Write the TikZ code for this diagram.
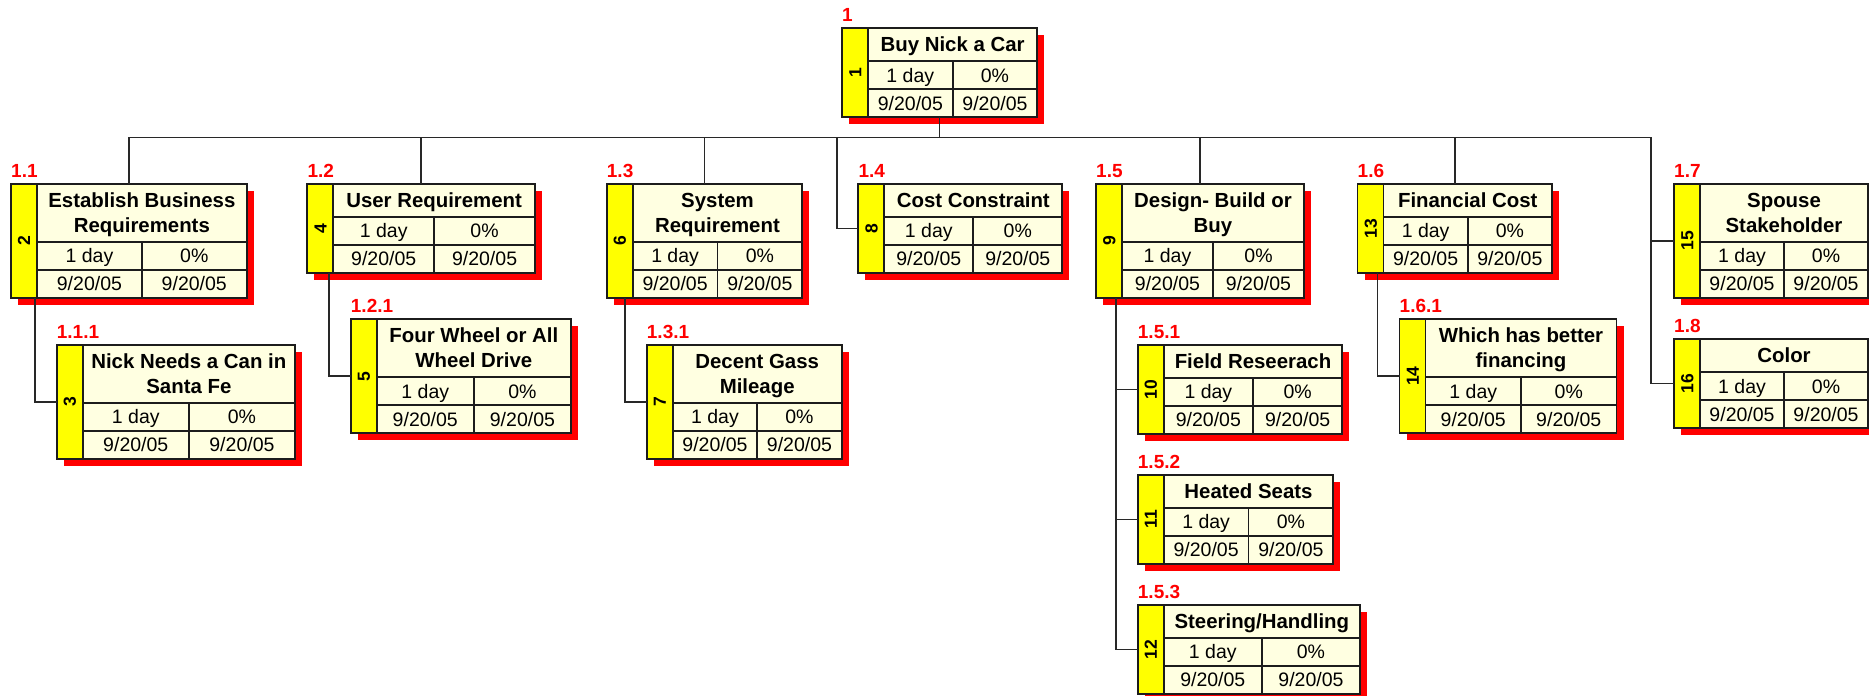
\documentclass[tikz,border=0pt]{standalone}
\usepackage{fontspec}
\setmainfont{Liberation Sans}
\usetikzlibrary{calc}
\definecolor{wbcream}{RGB}{255,255,225}
\definecolor{wbyellow}{RGB}{255,255,0}
\definecolor{wbred}{RGB}{255,0,0}
\definecolor{wbline}{RGB}{28,28,28}
\definecolor{wbconn}{RGB}{40,40,40}
\newcommand{\tstrut}{\rule[-5.85pt]{0pt}{25pt}}
\newcommand{\nl}{\\\tstrut}
\tikzset{
  wbs/.style={fill=wbcream, anchor=north west, inner sep=0pt, outer sep=0pt},
  wbgrid/.style={draw=wbline, line width=1.8pt},
  wbc/.style={draw=wbconn, line width=1.6pt},
  wbtitle/.style={font=\fontsize{20.4}{25}\selectfont\bfseries, align=center, inner sep=0pt},
  wbdata/.style={font=\fontsize{19.5}{22}\selectfont, inner sep=0pt, text height=14pt, text depth=0pt},
  wbnum/.style={font=\fontsize{17.5}{20}\selectfont\bfseries, rotate=90, inner sep=0pt, text height=12.5pt, text depth=0pt},
  wblabel/.style={font=\fontsize{19}{21}\selectfont\bfseries, text=wbred, inner sep=0pt, anchor=base west},
}
% #1 name, #2 left, #3 top, #4 width, #5 title height, #6 title, #7 number, #8 label
\newcommand{\wbsbox}[8]{%
  \pgfmathsetmacro{\wbXl}{#2}%
  \pgfmathsetmacro{\wbXs}{#2+26}%
  \pgfmathsetmacro{\wbXr}{#2+#4}%
  \pgfmathsetmacro{\wbXm}{(\wbXs+\wbXr)/2}%
  \pgfmathsetmacro{\wbXda}{(\wbXs+\wbXm)/2}%
  \pgfmathsetmacro{\wbXdb}{(\wbXm+\wbXr)/2}%
  \pgfmathsetmacro{\wbXn}{#2+13}%
  \pgfmathsetmacro{\wbYt}{#3}%
  \pgfmathsetmacro{\wbYa}{#3+#5}%
  \pgfmathsetmacro{\wbYb}{#3+#5+28}%
  \pgfmathsetmacro{\wbYc}{#3+#5+56}%
  \pgfmathsetmacro{\wbH}{#5+56}%
  \pgfmathsetmacro{\wbYtt}{#3+#5/2}%
  \pgfmathsetmacro{\wbYda}{#3+#5+14}%
  \pgfmathsetmacro{\wbYdb}{#3+#5+42}%
  \pgfmathsetmacro{\wbYn}{#3+(#5+56)/2}%
  \pgfmathsetmacro{\wbYl}{#3-7}%
  \fill[wbred] (\wbXl+7,\wbYt+7) rectangle (\wbXr+7,\wbYc+7);
  \node[wbs, minimum width=#4pt, minimum height=\wbH pt] (#1) at (\wbXl,\wbYt) {};
  \fill[wbyellow] (\wbXl,\wbYt) rectangle (\wbXs,\wbYc);
  \draw[wbgrid] (\wbXs,\wbYt) -- (\wbXs,\wbYc)
    (\wbXs,\wbYa) -- (\wbXr,\wbYa)
    (\wbXs,\wbYb) -- (\wbXr,\wbYb)
    (\wbXm,\wbYa) -- (\wbXm,\wbYc);
  \draw[wbgrid] (\wbXl,\wbYt) rectangle (\wbXr,\wbYc);
  \node[wbtitle] (#1-t) at (\wbXm,\wbYtt) {\tstrut #6};
  \node[wbdata] (#1-d) at (\wbXda,\wbYda) {1 day};
  \node[wbdata] (#1-p) at (\wbXdb,\wbYda) {0\%};
  \node[wbdata] (#1-s) at (\wbXda,\wbYdb) {9/20/05};
  \node[wbdata] (#1-f) at (\wbXdb,\wbYdb) {9/20/05};
  \node[wbnum] (#1-n) at (\wbXn,\wbYn) {#7};
  \node[wblabel] (#1-l) at (\wbXl,\wbYl) {#8};
}
\begin{document}
\begin{tikzpicture}[x=1pt,y=-1pt]
\useasboundingbox (0,0) rectangle (1869,696);
\clip (0,0) rectangle (1869,696);
\fill[white] (0,0) rectangle (1869,696);

\wbsbox{b1}{842}{28.3}{195.3}{32.7}{Buy Nick a Car}{1}{1}
\wbsbox{b2}{11}{184}{235.7}{57.7}{Establish Business\nl Requirements}{2}{1.1}
\wbsbox{b3}{56.7}{345}{238.3}{57.7}{Nick Needs a Can in\nl Santa Fe}{3}{1.1.1}
\wbsbox{b4}{307.3}{184}{227.7}{32.7}{User Requirement}{4}{1.2}
\wbsbox{b5}{350.7}{319.3}{220.3}{57.7}{Four Wheel or All\nl Wheel Drive}{5}{1.2.1}
\wbsbox{b6}{606.7}{184}{195.6}{57.7}{System\nl Requirement}{6}{1.3}
\wbsbox{b7}{646.7}{345}{195}{57.7}{Decent Gass\nl Mileage}{7}{1.3.1}
\wbsbox{b8}{858.3}{184}{204}{32.7}{Cost Constraint}{8}{1.4}
\wbsbox{b9}{1096}{184}{208}{57.7}{Design- Build or\nl Buy}{9}{1.5}
\wbsbox{b10}{1137.7}{345}{204.6}{32.7}{Field Reseerach}{10}{1.5.1}
\wbsbox{b11}{1137.7}{475}{195.6}{32.7}{Heated Seats}{11}{1.5.2}
\wbsbox{b12}{1137.7}{605}{222.3}{32.7}{Steering/Handling}{12}{1.5.3}
\wbsbox{b13}{1357.5}{184}{194.5}{32.7}{Financial Cost}{13}{1.6}
\wbsbox{b14}{1399.5}{319.3}{217}{57.7}{Which has better\nl financing}{14}{1.6.1}
\wbsbox{b15}{1674}{184}{194}{57.7}{Spouse\nl Stakeholder}{15}{1.7}
\wbsbox{b16}{1674}{339.3}{194}{32.7}{Color}{16}{1.8}

% connectors
\coordinate (bus) at (0,137.3);
\coordinate (j8) at (836.7,137.3);
\coordinate (j15) at (1651,137.3);
\draw[wbc] (b1.south) -- (b1.south |- bus);
\foreach \b in {b2,b4,b6,b9,b13} \draw[wbc] (\b.north) |- (b1.south |- bus);
\draw[wbc] (b8.west) -| (j8) -- (b1.south |- bus);
\draw[wbc] (b16.west) -| (j15) -- (b1.south |- bus);
\draw[wbc] (b15.west) -| (j15);
\draw[wbc] (b3.west) -- ++(-22,0) coordinate (c3) -- (c3 |- b2.south);
\draw[wbc] (b5.west) -- ++(-22,0) coordinate (c5) -- (c5 |- b4.south);
\draw[wbc] (b7.west) -- ++(-22,0) coordinate (c7) -- (c7 |- b6.south);
\draw[wbc] (b10.west) -- ++(-22,0) coordinate (c10) -- (c10 |- b9.south);
\draw[wbc] (b11.west) -- ++(-22,0) coordinate (c11) -- (c11 |- b9.south);
\draw[wbc] (b12.west) -- ++(-22,0) coordinate (c12) -- (c12 |- b9.south);
\draw[wbc] (b14.west) -- ++(-22,0) coordinate (c14) -- (c14 |- b13.south);
\end{tikzpicture}
\end{document}
